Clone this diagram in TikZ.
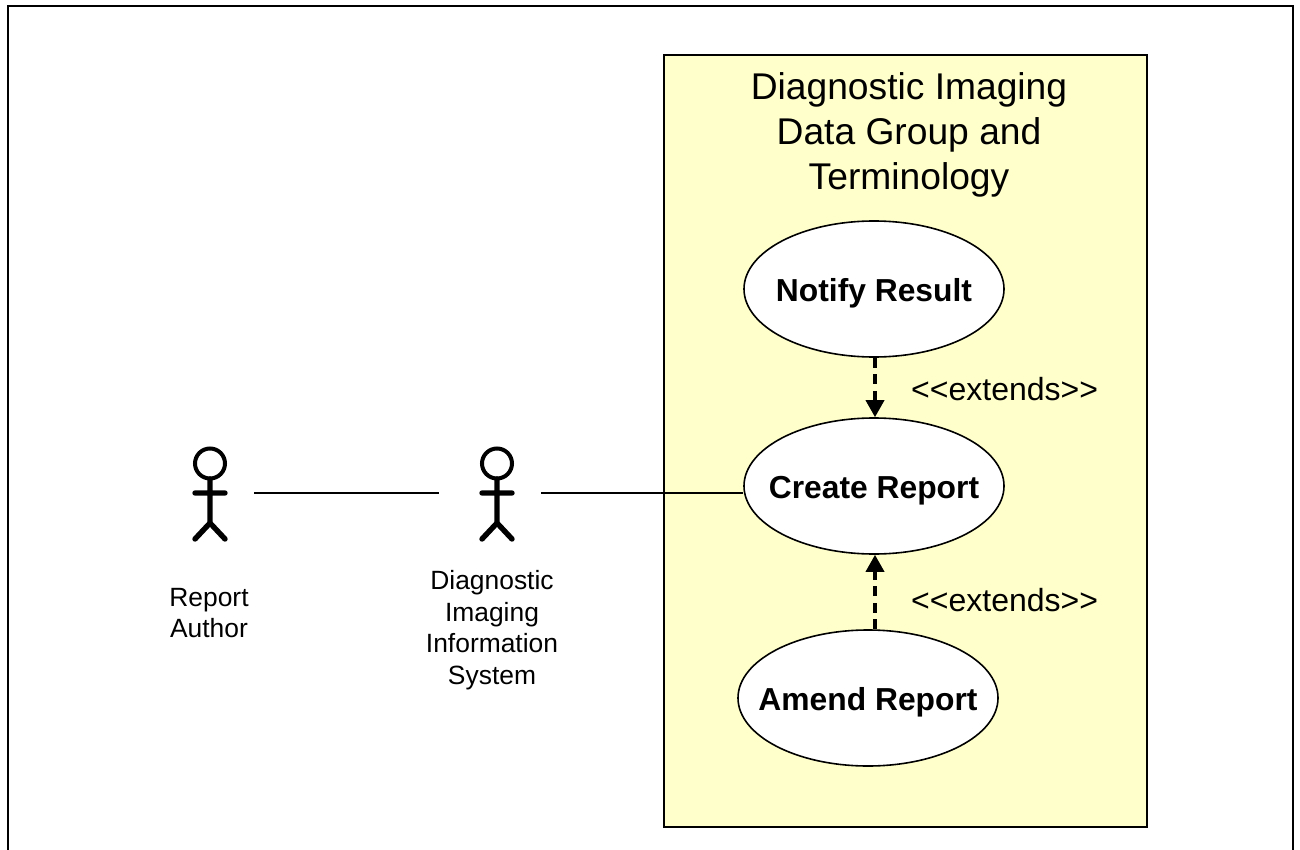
\documentclass[tikz,border=0pt]{standalone}
\usepackage{fontspec}
\setmainfont{Liberation Sans}
\usetikzlibrary{arrows.meta,shapes.geometric}
\definecolor{boxyellow}{HTML}{FFFFCC}
\tikzset{
  usecase/.style={draw,ellipse,fill=white,line width=1.6pt,minimum width=260pt,minimum height=136pt,
    inner sep=-40pt,text height=25pt,text depth=0pt,font=\fontsize{31.8}{36}\selectfont\bfseries},
  actorbox/.style={minimum width=88pt,minimum height=60pt,inner sep=0pt},
  actorlabel/.style={align=center,font=\fontsize{26.4}{31.6}\selectfont},
  extendlabel/.style={anchor=west,inner sep=0pt,font=\fontsize{32}{36}\selectfont},
  extends/.style={line width=3.6pt,dash pattern=on 10pt off 6.5pt,-{Triangle[width=18pt,length=17pt]}},
  actor/.pic={
    \draw[line width=4pt] (0,-29.5) circle (15pt);
    \draw[line width=5.4pt,line cap=round] (-15,0) -- (15,0) (0,-14) -- (0,30) (-15,46) -- (0,30) -- (15,46);
  },
}
\begin{document}
\begin{tikzpicture}[x=1pt,y=-1pt]
\useasboundingbox (0,0) rectangle (1300,850);
\draw[line width=2.4pt] (8,850) -- (8,6) -- (1293,6) -- (1293,850);
\node[draw,fill=boxyellow,line width=2pt,minimum width=483pt,minimum height=772pt,inner sep=0pt] (group) at (905.5,441) {};
\node[align=center,inner sep=0pt,font=\fontsize{37.2}{45}\selectfont] (title) at (909,135)
  {Diagnostic Imaging\\Data Group and\\Terminology};
\node[usecase] (notify) at (874,289) {Notify Result};
\node[usecase] (create) at (874,486) {Create Report};
\node[usecase] (amend) at (868,698) {Amend Report};
\node[actorbox] (author) at (210,493) {};
\node[actorbox] (system) at (497,493) {};
\pic at (author) {actor};
\pic at (system) {actor};
\node[actorlabel] (authorlabel) at (209,613) {Report\\Author};
\node[actorlabel] (systemlabel) at (492,630) {Diagnostic\\Imaging\\Information\\System};
\draw[line width=1.6pt,shorten >=14pt] (author.east) -- (system.west);
\draw[line width=1.6pt] (system.east) -- (create.west |- system.east);
\draw[extends] ([xshift=1pt]notify.south) -- ([xshift=1pt]create.north);
\draw[extends] ([xshift=7pt]amend.north) -- ([xshift=1pt]create.south);
\node[extendlabel] (extendsa) at (911,389) {<{}<extends>{}>};
\node[extendlabel] (extendsb) at (911,600) {<{}<extends>{}>};
\end{tikzpicture}
\end{document}
